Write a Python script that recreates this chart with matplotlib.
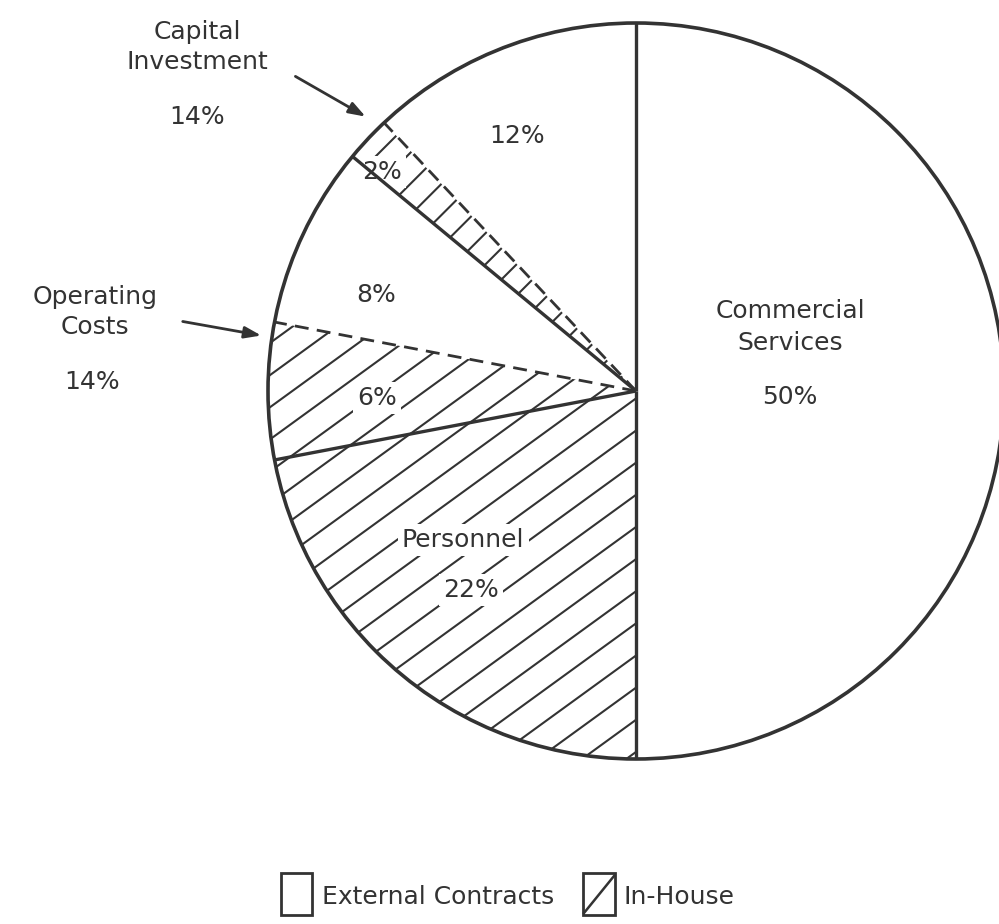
import numpy as np
import matplotlib.pyplot as plt
from matplotlib.patches import Circle, Rectangle
from matplotlib.collections import LineCollection

# slices, counter-clockwise from 12 o'clock
slice_values = [12, 2, 8, 6, 22, 50]
slice_labels = ['12%', '2%', '8%', '6%', 'Personnel\n\n22%', 'Commercial\nServices\n\n50%']
in_house = [False, True, False, True, True, False]
# style of the radial line at the end of each slice
edge_styles = ['--', '-', '--', '-', '-', '-']

group_names = ['Capital\nInvestment', 'Operating\nCosts']
group_totals = ['14%', '14%']
legend_labels = ['External Contracts', 'In-House']

INK = '#333333'
W, H = 999, 924
cx, cy, R = 636, H - 391, 368

fig = plt.figure(figsize=(W / 100, H / 100), dpi=100)
ax = fig.add_axes([0, 0, 1, 1])

wedges, _ = ax.pie(slice_values, startangle=90, counterclock=True, radius=R,
                   center=(cx, cy), colors=['white'] * len(slice_values),
                   wedgeprops=dict(linewidth=0))

# hand-drawn looking hatch, clipped to the in-house slices
for w, ih in zip(wedges, in_house):
    if not ih:
        continue
    small = (w.theta2 - w.theta1) < 15
    ang = np.radians(45 if small else 36)
    step = 22 if small else 26
    d = np.array([np.cos(ang), np.sin(ang)])
    n = np.array([-np.sin(ang), np.cos(ang)])
    segs = []
    for k in np.arange(-R * 1.5, R * 1.5, step):
        p = np.array([cx, cy]) + k * n
        segs.append([p - 1.6 * R * d, p + 1.6 * R * d])
    lc = LineCollection(segs, colors=INK, linewidths=1.5, zorder=2)
    ax.add_collection(lc)
    lc.set_clip_path(w)

# outline and radial dividers
ax.add_patch(Circle((cx, cy), R, fill=False, ec=INK, lw=2.6, zorder=4))
ends = 90 + np.cumsum([0] + slice_values) * 3.6
for a, ls in zip(ends[:-1], ['-'] + edge_styles[:-1]):
    t = np.radians(a)
    ax.plot([cx, cx + R * np.cos(t)], [cy, cy + R * np.sin(t)], color=INK,
            lw=2.4 if ls == '-' else 2.0, ls=ls,
            dashes=(5, 3) if ls == '--' else (None, None), zorder=4,
            solid_capstyle='butt')

font = dict(family='DejaVu Sans', color=INK, fontsize=18)
box = dict(facecolor='white', edgecolor='none', pad=3)
label_xy = [(517, 136), (382, 172), (376, 295), (377, 398), (463, 565), (790, 352)]
for lab, (x, y), ih in zip(slice_labels, label_xy, in_house):
    if '\n\n' in lab and ih:
        a, b = lab.split('\n\n')
        ax.text(x, H - 540, a, ha='center', va='center', bbox=box, **font)
        ax.text(x + 8, H - 590, b, ha='center', va='center', bbox=box, **font)
    elif '\n\n' in lab:
        a, b = lab.split('\n\n')
        ax.text(x, H - 327, a, ha='center', va='center', linespacing=1.4, **font)
        ax.text(x, H - 397, b, ha='center', va='center', **font)
    else:
        ax.text(x, H - y, lab, ha='center', va='center',
                bbox=box if ih else None, **font)

# group callouts
ax.text(197, H - 47, group_names[0], ha='center', va='center', linespacing=1.3, **font)
ax.text(197, H - 117, group_totals[0], ha='center', va='center', **font)
ax.text(95, H - 312, group_names[1], ha='center', va='center', linespacing=1.3, **font)
ax.text(92, H - 382, group_totals[1], ha='center', va='center', **font)
arrow = dict(arrowstyle='-|>,head_length=1.0,head_width=0.35', color=INK, lw=2)
ax.annotate('', xy=(368, H - 118), xytext=(293, H - 75), arrowprops=arrow)
ax.annotate('', xy=(264, H - 336), xytext=(180, H - 321), arrowprops=arrow)

# legend
ax.add_patch(Rectangle((281, H - 915), 31, 42, fill=False, ec=INK, lw=2))
ax.text(322, H - 897, legend_labels[0], ha='left', va='center', **font)
ax.add_patch(Rectangle((583, H - 915), 32, 42, fill=False, ec=INK, lw=2))
ax.plot([584, 614], [H - 913, H - 876], color=INK, lw=1.8)
ax.text(624, H - 897, legend_labels[1], ha='left', va='center', **font)

ax.set_xlim(0, W)
ax.set_ylim(0, H)
ax.set_aspect('auto')
ax.axis('off')

fig.savefig('out.png', dpi=100, facecolor='white')
